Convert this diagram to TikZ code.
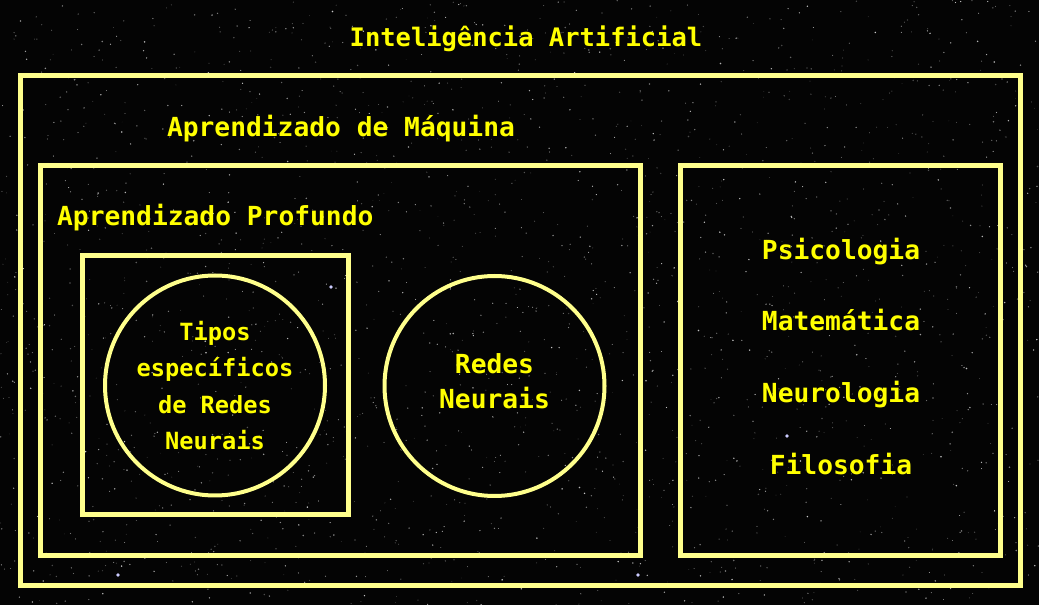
\documentclass[tikz,border=0pt]{standalone}
\usepackage{fontspec}
\usepackage{xcolor}
\newfontfamily\diagfont{DejaVu Sans Mono}
\definecolor{skycolor}{HTML}{040404}
\definecolor{framecolorc}{HTML}{FFFF8C}
\definecolor{textc}{HTML}{FFFF00}
\colorlet{framecolor}{framecolorc}
\colorlet{textcolor}{textc}
\tikzstyle{framebox} = [
    draw=framecolor,
    line width=3.75pt
    ]
\tikzstyle{netcircle} = [
    draw=framecolor,
    line width=3pt,
    circle,
    minimum size=165pt,
    inner sep=0pt,
    text=textcolor,
    align=center
    ]
\tikzstyle{fieldtext} = [
    text=textcolor,
    font=\diagfont\bfseries\fontsize{19.7}{26}\selectfont,
    inner sep=0pt,
    anchor=base
    ]

\begin{document}
\begin{tikzpicture}[x=0.75pt, y=-0.75pt]
% night sky
\fill[skycolor] (0,0) rectangle (1039,605);
\useasboundingbox (0,0) rectangle (1039,605);
\pgfmathsetseed{1234}
\foreach \i in {1,...,2200}{
    \fill[white, opacity=0.2+0.6*rnd] (1039*rnd, 605*rnd) circle (0.25pt+0.4pt*rnd);
}
\foreach \sx/\sy in {331/287, 638/575, 322/217, 787/436, 118/575}{
    \fill[blue!20!white] (\sx,\sy) circle (1.4pt);
}

% frames
\draw[framebox] (20.5,75.5) rectangle (1020.5,585.5);
\draw[framebox] (40.5,165.5) rectangle (640.5,555.5);
\draw[framebox] (680.5,165.5) rectangle (1000.5,555.5);
\draw[framebox] (82.5,255.5) rectangle (348.5,514.5);

% titles
\node[fieldtext, font=\diagfont\bfseries\fontsize{19.1}{26}\selectfont] (ia) at (526,46.7) {Inteligência Artificial};
\node[fieldtext] (ml) at (341,136.7) {Aprendizado de Máquina};
\node[fieldtext] (dl) at (215.3,226) {Aprendizado Profundo};

% circles
\node[netcircle, font=\diagfont\bfseries\fontsize{17.75}{27.4}\selectfont] (tipos) at (215,385.5)
    {Tipos\\específicos\\de Redes\\Neurais};
\node[netcircle, text depth=8pt, font=\diagfont\bfseries\fontsize{19.7}{26.3}\selectfont] (redes) at (494.5,386)
    {Redes\\Neurais};

% other fields
\foreach \subj/\yy [count=\k] in {Psicologia/259.3, Matemática/331, Neurologia/403, Filosofia/475}{
    \node[fieldtext] (field\k) at (841,\yy) {\subj};
}
\end{tikzpicture}
\end{document}
